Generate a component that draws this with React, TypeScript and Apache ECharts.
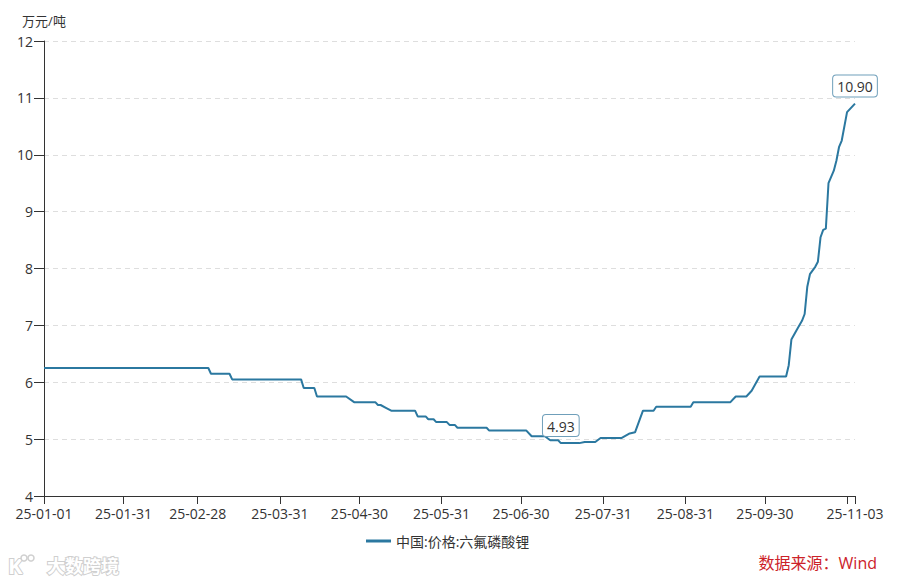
import React, { useEffect, useRef } from "react";
import * as echarts from "echarts";

// Turning points of the price line (date, 万元/吨)
const dates: string[] = [
  "2025-01-01", "2025-03-04", "2025-03-05", "2025-03-12", "2025-03-13",
  "2025-04-08", "2025-04-09", "2025-04-13", "2025-04-14", "2025-04-25",
  "2025-04-28", "2025-05-06", "2025-05-07", "2025-05-08", "2025-05-10",
  "2025-05-12", "2025-05-21", "2025-05-22", "2025-05-25", "2025-05-26",
  "2025-05-28", "2025-05-29", "2025-06-02", "2025-06-03", "2025-06-05",
  "2025-06-06", "2025-06-17", "2025-06-18", "2025-07-02", "2025-07-04",
  "2025-07-09", "2025-07-11", "2025-07-14", "2025-07-15", "2025-07-22",
  "2025-07-24", "2025-07-28", "2025-07-30", "2025-08-07", "2025-08-10",
  "2025-08-12", "2025-08-15", "2025-08-19", "2025-08-20", "2025-09-02",
  "2025-09-03", "2025-09-17", "2025-09-19", "2025-09-23", "2025-09-25",
  "2025-09-28", "2025-10-08", "2025-10-09", "2025-10-10", "2025-10-12",
  "2025-10-14", "2025-10-15", "2025-10-16", "2025-10-17", "2025-10-19",
  "2025-10-20", "2025-10-21", "2025-10-22", "2025-10-23", "2025-10-24",
  "2025-10-26", "2025-10-27", "2025-10-28", "2025-10-29", "2025-10-31",
  "2025-11-03",
];
const prices: number[] = [
  6.25, 6.25, 6.15, 6.15, 6.05,
  6.05, 5.9, 5.9, 5.75, 5.75,
  5.65, 5.65, 5.6, 5.6, 5.55,
  5.5, 5.5, 5.4, 5.4, 5.35,
  5.35, 5.3, 5.3, 5.25, 5.25,
  5.2, 5.2, 5.15, 5.15, 5.05,
  5.05, 4.98, 4.98, 4.93, 4.93,
  4.95, 4.95, 5.02, 5.02, 5.1,
  5.12, 5.5, 5.5, 5.57, 5.57,
  5.65, 5.65, 5.75, 5.75, 5.85,
  6.1, 6.1, 6.3, 6.75, 6.92,
  7.08, 7.2, 7.68, 7.9, 8.03,
  8.12, 8.55, 8.68, 8.7, 9.5,
  9.72, 9.9, 10.14, 10.25, 10.75,
  10.9,
];

const labelDates: string[] = [
  "2025-01-01", "2025-01-31", "2025-02-28", "2025-03-31", "2025-04-30",
  "2025-05-31", "2025-06-30", "2025-07-31", "2025-08-31", "2025-09-30",
  "2025-11-03",
];
const tickDates: string[] = [...labelDates, "2025-10-31"];

const seriesName = "中国:价格:六氟磷酸锂";
const unitName = "万元/吨";
const sourceText = "数据来源：Wind";
const watermarkText = "大数跨境";

const FONT = '"Open Sans", "Noto Sans CJK SC", sans-serif';

function ts(s: string): number {
  const [y, m, d] = s.split("-").map(Number);
  return new Date(y, m - 1, d).getTime();
}
function pad(n: number): string {
  return n < 10 ? "0" + n : String(n);
}

export default function App() {
  const ref = useRef<HTMLDivElement>(null);
  useEffect(() => {
    if (!ref.current) return;
    const chart = echarts.init(ref.current, null, { renderer: "svg" });
    const data = dates.map((d, i) => [ts(d), prices[i]]);
    chart.setOption({
      animation: false,
      backgroundColor: "#fff",
      textStyle: { fontFamily: FONT },
      grid: { left: 44, right: 51, top: 41, bottom: 88, containLabel: false, outerBoundsMode: "none" },
      legend: {
        left: 361,
        top: 529,
        icon: "rect",
        itemWidth: 25,
        itemHeight: 3,
        itemGap: 10,
        textStyle: { fontSize: 14, color: "#333", fontFamily: FONT },
        data: [seriesName],
      },
      xAxis: {
        type: "value",
        min: ts("2025-01-01"),
        max: ts("2025-11-03"),
        axisLine: { show: true, lineStyle: { color: "#333", width: 1 } },
        axisTick: {
          show: true,
          length: 8,
          lineStyle: { color: "#333" },
          customValues: tickDates.map(ts),
        },
        axisLabel: {
          color: "#333",
          fontSize: 14,
          fontFamily: FONT,
          margin: 10,
          customValues: labelDates.map(ts),
          formatter: (v: number) => {
            const d = new Date(v);
            return `${pad(d.getFullYear() % 100)}-${pad(d.getMonth() + 1)}-${pad(d.getDate())}`;
          },
          hideOverlap: false,
          showMinLabel: true,
          showMaxLabel: true,
        },
        splitLine: { show: false },
      },
      yAxis: {
        type: "value",
        min: 4,
        max: 12,
        interval: 1,
        name: unitName,
        nameLocation: "end",
        nameGap: 14,
        nameTextStyle: { color: "#333", fontSize: 13, fontFamily: FONT, align: "center" },
        axisLine: { show: true, lineStyle: { color: "#333", width: 1 } },
        axisTick: { show: true, length: 10, lineStyle: { color: "#333" } },
        axisLabel: { color: "#333", fontSize: 14, fontFamily: FONT, margin: 11 },
        splitLine: { show: true, lineStyle: { color: "#dedede", type: [5, 4], width: 1 } },
      },
      series: [
        {
          name: seriesName,
          type: "line",
          data,
          showSymbol: false,
          symbol: "none",
          color: "#2b78a0",
          lineStyle: { color: "#2b78a0", width: 2 },
          markPoint: {
            symbol: "circle",
            symbolSize: 2,
            itemStyle: { color: "rgba(0,0,0,0)" },
            label: {
              show: true,
              position: "top",
              distance: 6,
              formatter: (p: any) => Number(p.value).toFixed(2),
              color: "#333",
              fontSize: 14,
              fontFamily: FONT,
              backgroundColor: "#fff",
              borderColor: "#6f9fba",
              borderWidth: 1,
              borderRadius: 3,
              padding: [4, 4, 3, 4],
            },
            data: [{ type: "min" }, { type: "max" }],
          },
        },
      ],
      graphic: [
        {
          type: "text",
          left: 7,
          top: 553,
          style: {
            text: "K",
            font: `bold 22px ${FONT}`,
            fill: "#fff",
            stroke: "#cfcfcf",
            lineWidth: 2,
          },
        },
        { type: "circle", shape: { cx: 24, cy: 558, r: 3 }, style: { fill: "#fff", stroke: "#cfcfcf", lineWidth: 1.5 } },
        { type: "circle", shape: { cx: 31, cy: 558, r: 3 }, style: { fill: "#fff", stroke: "#cfcfcf", lineWidth: 1.5 } },
        {
          type: "text",
          left: 46,
          top: 555,
          style: {
            text: watermarkText,
            font: `bold 18px "Noto Sans CJK SC", sans-serif`,
            fill: "#fff",
            stroke: "#cfcfcf",
            lineWidth: 2,
          },
        },
        {
          type: "text",
          right: 29,
          top: 555,
          style: {
            text: sourceText,
            font: `16px ${FONT}`,
            fill: "#cc2229",
          },
        },
      ],
    });
    return () => chart.dispose();
  }, []);
  return (
    <div
      ref={ref}
      style={{ position: "absolute", left: 0, top: 0, width: 906, height: 584 }}
    />
  );
}
